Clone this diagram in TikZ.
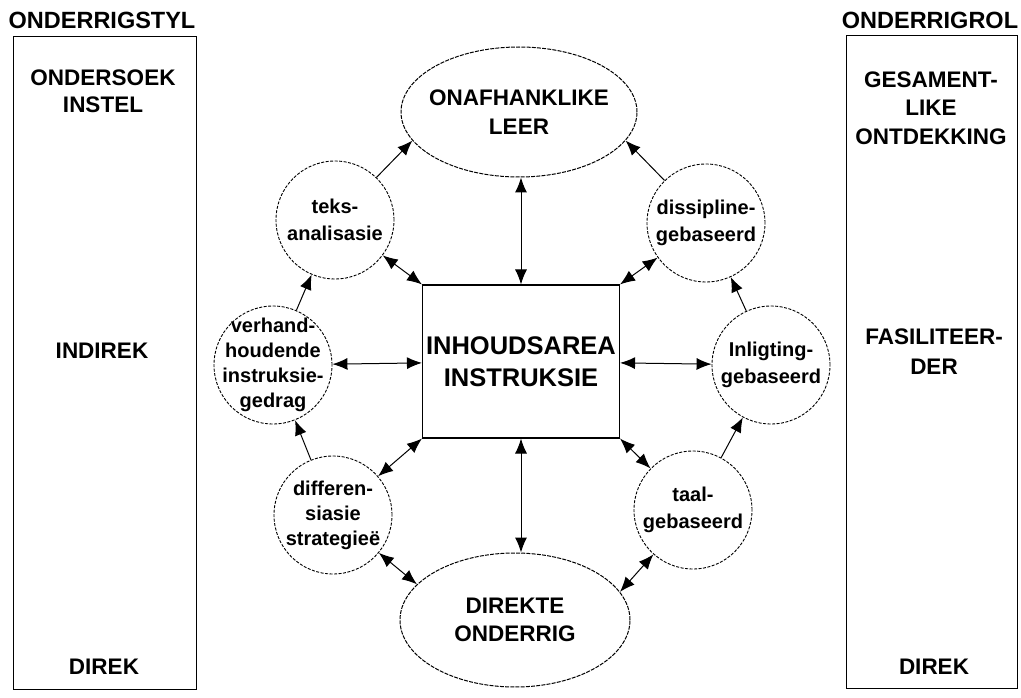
\documentclass[tikz,border=0pt]{standalone}
\usepackage{fontspec}
\setmainfont{Liberation Sans}
\usetikzlibrary{shapes.geometric,arrows.meta}
\tikzset{
  frame/.style={draw, line width=1pt, inner sep=0pt},
  boxtext/.style={font=\fontsize{22.5}{27}\selectfont\bfseries, align=center, inner sep=0pt},
  bigoval/.style={draw, ellipse, line width=1pt, dash pattern=on 4pt off 1.2pt, inner sep=0pt},
  smallcirc/.style={draw, circle, line width=0.9pt, dash pattern=on 3pt off 1.5pt, inner sep=0pt, minimum size=118pt},
  circtext/.style={font=\fontsize{20}{25}\selectfont\bfseries, align=center, inner sep=0pt},
  ovaltext/.style={font=\fontsize{22.5}{29}\selectfont\bfseries, align=center, inner sep=0pt},
  sarrow/.style={line width=1pt, -{Latex[length=15pt,width=12pt]}},
  darrow/.style={line width=1pt, {Latex[length=15pt,width=12pt]}-{Latex[length=15pt,width=12pt]}},
}
\begin{document}
\begin{tikzpicture}[x=1pt,y=-1pt]
\useasboundingbox (0,0) rectangle (1021,698);
% side frames
\node[frame, minimum width=183pt, minimum height=652pt] (lbox) at (104.5,363) {};
\node[frame, minimum width=171pt, minimum height=652pt] (rbox) at (931.5,362) {};
\node[boxtext, font=\fontsize{23.5}{27}\selectfont\bfseries] (lhead) at (102,20) {ONDERRIGSTYL};
\node[boxtext, font=\fontsize{23.5}{27}\selectfont\bfseries] (rhead) at (930,20) {ONDERRIGROL};
\node[boxtext] (l1) at (103,91) {ONDERSOEK\\INSTEL};
\node[boxtext] (l2) at (102,351) {INDIREK};
\node[boxtext] (l3) at (104,667) {DIREK};
\node[boxtext, font=\fontsize{22.5}{28.5}\selectfont\bfseries] (r1) at (931,108) {GESAMENT-\\LIKE\\ONTDEKKING};
\node[boxtext, font=\fontsize{22.5}{30}\selectfont\bfseries] (r2) at (934,352) {FASILITEER-\\DER};
\node[boxtext] (r3) at (934,667) {DIREK};
% centre
\node[draw, line width=1.1pt, minimum width=197pt, minimum height=153pt, inner sep=0pt,
      font=\fontsize{25.5}{32}\selectfont\bfseries, align=center] (rect) at (521,361.5) {INHOUDSAREA\\INSTRUKSIE};
\node[bigoval, minimum width=236pt, minimum height=130pt,
      label={[ovaltext]center:ONAFHANKLIKE\\LEER}] (top) at (519,112) {};
\node[bigoval, minimum width=230pt, minimum height=134pt,
      label={[ovaltext, font=\fontsize{22.5}{28}\selectfont\bfseries]center:DIREKTE\\ONDERRIG}] (bot) at (515,620) {};
% satellites
\node[smallcirc, label={[circtext, font=\fontsize{20}{27}\selectfont\bfseries]center:teks-\\analisasie}] (teks) at (335,220) {};
\node[smallcirc, label={[circtext]center:verhand-\\houdende\\instruksie-\\gedrag}] (verh) at (273,365) {};
\node[smallcirc, label={[circtext]center:differen-\\siasie\\strategieë}] (diff) at (333,515) {};
\node[smallcirc, label={[circtext, font=\fontsize{20}{27}\selectfont\bfseries]center:dissipline-\\gebaseerd}] (diss) at (706,223) {};
\node[smallcirc, label={[circtext, font=\fontsize{20}{27}\selectfont\bfseries]center:Inligting-\\gebaseerd}] (inli) at (771,365) {};
\node[smallcirc, label={[circtext, font=\fontsize{20}{27}\selectfont\bfseries]center:taal-\\gebaseerd}] (taal) at (693,510) {};
% connectors
\draw[darrow] (rect.north) -- (rect.north |- top.south);
\draw[darrow] (rect.south) -- (rect.south |- bot.north);
\draw[darrow] (verh) -- (rect);
\draw[darrow] (inli) -- (rect);
\draw[darrow] (teks) -- (rect.north west);
\draw[darrow] (diff) -- (rect.south west);
\draw[darrow] (diss) -- (rect.north east);
\draw[darrow] (taal) -- (rect.south east);
\draw[darrow] (diff) -- (bot.160);
\draw[darrow] (taal) -- (bot.15);
\draw[sarrow] (teks) -- (top.195);
\draw[sarrow] (diss) -- (top.345);
\draw[sarrow] (verh) -- (teks);
\draw[sarrow] (diff) -- (verh);
\draw[sarrow] (taal) -- (inli);
\draw[sarrow] (inli) -- (diss);
\end{tikzpicture}
\end{document}
